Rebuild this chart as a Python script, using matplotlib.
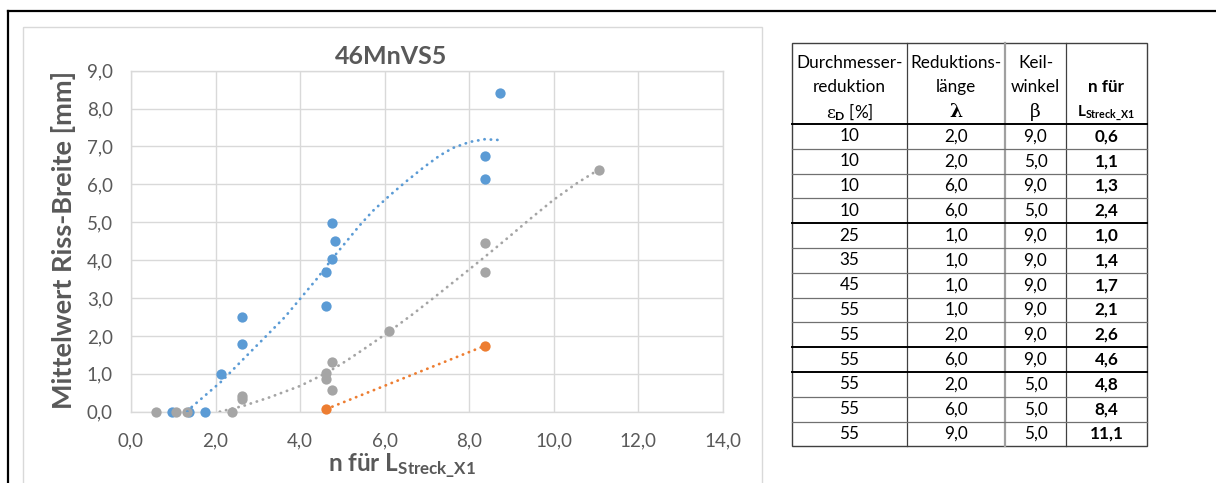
import numpy as np
import matplotlib
matplotlib.use("Agg")
import matplotlib.pyplot as plt
from matplotlib.lines import Line2D
from matplotlib.patches import Rectangle

plt.rcParams['font.family'] = ['Lato', 'DejaVu Sans']
plt.rcParams['mathtext.fontset'] = 'custom'
plt.rcParams['mathtext.rm'] = 'Lato'
plt.rcParams['mathtext.bf'] = 'Lato:bold'
plt.rcParams['mathtext.it'] = 'DejaVu Serif'

# -------------------------------------------------
# Daten
# -------------------------------------------------

blue_x = [0.97, 1.37, 1.76, 2.13, 2.62, 2.62, 4.62, 4.62, 4.76, 4.76, 4.83, 8.37, 8.37, 8.72]
blue_y = [0.0, 0.0, 0.0, 0.99, 1.79, 2.51, 2.80, 3.70, 4.04, 4.99, 4.50, 6.14, 6.75, 8.42]

gray_x = [0.58, 1.06, 1.33, 2.39, 2.62, 2.62, 4.62, 4.62, 4.76, 4.76, 6.10, 8.37, 8.37, 11.06]
gray_y = [0.0, 0.0, 0.0, 0.0, 0.42, 0.33, 1.01, 0.86, 1.32, 0.57, 2.14, 4.45, 3.69, 6.39]

orange_x = [4.62, 8.37]
orange_y = [0.07, 1.74]

blue_trend_x = [1.33, 1.39, 2.14, 2.65, 3.20, 3.64, 4.00, 4.39, 4.76, 5.10, 5.41,
                5.72, 6.12, 6.51, 6.91, 7.30, 7.61, 8.01, 8.36, 8.72]
blue_trend_y = [0.0, 0.08, 0.80, 1.38, 2.00, 2.50, 2.98, 3.50, 4.04, 4.50, 4.92,
                5.30, 5.71, 6.08, 6.44, 6.76, 6.96, 7.12, 7.19, 7.17]

gray_trend_x = [2.10, 2.65, 3.28, 4.00, 4.62, 5.09, 5.57, 6.10, 6.67, 7.22, 7.77,
                8.36, 8.87, 9.43, 9.98, 10.53, 11.06]
gray_trend_y = [0.0, 0.15, 0.38, 0.68, 1.02, 1.34, 1.70, 2.11, 2.58, 3.06, 3.55,
                4.08, 4.55, 5.08, 5.58, 6.02, 6.39]

# Tabelle
eps_d = [10, 10, 10, 10, 25, 35, 45, 55, 55, 55, 55, 55, 55]
lam = [2.0, 2.0, 6.0, 6.0, 1.0, 1.0, 1.0, 1.0, 2.0, 6.0, 2.0, 6.0, 9.0]
beta = [9.0, 5.0, 9.0, 5.0, 9.0, 9.0, 9.0, 9.0, 9.0, 9.0, 5.0, 5.0, 5.0]
n_val = [0.6, 1.1, 1.3, 2.4, 1.0, 1.4, 1.7, 2.1, 2.6, 4.6, 4.8, 8.4, 11.1]

BLUE = "#5B9BD5"
ORANGE = "#ED7D31"
GRAY = "#A5A5A5"
TXT = "#595959"
GRID = "#D9D9D9"

W, H = 1216, 483


def fig_rect(x0, y0, x1, y1):
    # Pixel -> figure coords
    return [x0 / W, 1 - y1 / H, (x1 - x0) / W, (y1 - y0) / H]


def de(v):
    return f"{v:.1f}".replace(".", ",")


fig = plt.figure(figsize=(W / 100, H / 100), dpi=100)

# overlay in Pixelkoordinaten fuer Rahmen und Tabelle
ov = fig.add_axes([0, 0, 1, 1])
ov.set_xlim(0, W)
ov.set_ylim(H, 0)
ov.axis("off")
ov.patch.set_visible(False)

# schwarzer Rahmen (oben, links)
ov.add_line(Line2D([8, W], [11, 11], color="black", lw=1.6))
ov.add_line(Line2D([8, 8], [11, H], color="black", lw=1.6))
# Diagrammbereich
ov.add_patch(Rectangle((23, 27), 739, 480, fill=False, ec=GRID, lw=1.0))

# -------------------------------------------------
# Diagramm
# -------------------------------------------------

ax = fig.add_axes(fig_rect(131, 70.7, 723, 411.7))

ax.scatter(blue_x, blue_y, s=55, color=BLUE, lw=0, zorder=3, clip_on=False)
ax.scatter(gray_x, gray_y, s=55, color=GRAY, lw=0, zorder=3, clip_on=False)
ax.scatter(orange_x, orange_y, s=55, color=ORANGE, lw=0, zorder=3, clip_on=False)

dots = (0, (0.1, 2.2))
tl = dict(lw=2.0, linestyle=dots, dash_capstyle="round", zorder=4)
ax.plot(blue_trend_x, blue_trend_y, color=BLUE, **tl)
ax.plot(gray_trend_x, gray_trend_y, color=GRAY, **tl)
ax.plot(orange_x, orange_y, color=ORANGE, **tl)

ax.set_xlim(0, 14)
ax.set_ylim(0, 9)
ax.set_xticks(np.arange(0, 15, 2))
ax.set_yticks(np.arange(0, 10, 1))
ax.set_xticklabels([de(v) for v in np.arange(0, 15, 2)])
ax.set_yticklabels([de(v) for v in np.arange(0, 10, 1)])
ax.tick_params(length=0, labelsize=13.5, colors=TXT)
ax.tick_params(axis="y", pad=13)
ax.tick_params(axis="x", pad=15)
ax.grid(True, color=GRID, lw=1.0)
ax.set_axisbelow(True)
for s in ax.spines.values():
    s.set_color(GRID)
    s.set_linewidth(1.0)

fig.text(391 / W, 1 - 56 / H, "46MnVS5", ha="center", va="center",
         fontsize=18, fontweight="bold", color=TXT)
fig.text(64 / W, 1 - 240 / H, "Mittelwert Riss-Breite [mm]", ha="center",
         va="center", rotation=90, fontsize=19.5, fontweight="bold", color=TXT)
fig.text(402 / W, 1 - 466 / H, r"n für L$_{\mathbf{Streck\_X1}}$",
         ha="center", va="center", fontsize=17.5, fontweight="bold", color=TXT)

# -------------------------------------------------
# Tabelle
# -------------------------------------------------

cols = [792, 907, 1005, 1066, 1147]
top, head_bot, row_h = 43, 124, 24.8
n_rows = len(n_val)
bot = head_bot + n_rows * row_h
cx = [(cols[i] + cols[i + 1]) / 2 for i in range(4)]
fs = 12.3

# Rahmen
ov.add_patch(Rectangle((cols[0], top), cols[-1] - cols[0], bot - top,
                       fill=False, ec="#404040", lw=1.0))
for i, x in enumerate(cols[1:-1]):
    if i == 1:
        ov.add_line(Line2D([x, x], [top, bot], color="#A0A0A0", lw=1.6))
    else:
        ov.add_line(Line2D([x, x], [top, bot], color="#404040", lw=0.9))

thick = {0, 4, 9, 10}
for r in range(n_rows):
    y = head_bot + r * row_h
    if r in thick:
        ov.add_line(Line2D([cols[0], cols[-1]], [y, y], color="black", lw=1.4))
    else:
        ov.add_line(Line2D([cols[0], cols[-1]], [y, y], color="#707070", lw=0.9))

# Kopf
hy = [63, 87, 112]
kw = dict(ha="center", va="center", fontsize=fs, color="black")
ov.text(cx[0], hy[0], "Durchmesser-", **kw)
ov.text(cx[0], hy[1], "reduktion", **kw)
ov.text(cx[0], hy[2], r"$\varepsilon_{\mathbf{D}}$ [%]", **kw)
ov.text(cx[1], hy[0], "Reduktions-", **kw)
ov.text(cx[1], hy[1], "länge", **kw)
ov.text(cx[1], hy[2], "λ", ha="center", va="center", fontsize=13.5,
        family="DejaVu Serif", fontweight="bold")
ov.text(cx[2], hy[0], "Keil-", **kw)
ov.text(cx[2], hy[1], "winkel", **kw)
ov.text(cx[2], hy[2], "β", ha="center", va="center", fontsize=13.5,
        family="DejaVu Serif")
ov.text(cx[3], hy[1], "n für", fontweight="bold", **kw)
ov.text(cx[3], hy[2] + 1, r"L$_{\mathbf{Streck\_X1}}$", fontweight="bold",
        ha="center", va="center", fontsize=11)

for r in range(n_rows):
    y = head_bot + (r + 0.5) * row_h
    ov.text(cx[0], y, str(eps_d[r]), **kw)
    ov.text(cx[1], y, de(lam[r]), **kw)
    ov.text(cx[2], y, de(beta[r]), **kw)
    ov.text(cx[3], y, de(n_val[r]), fontweight="bold", **kw)

fig.savefig("out.png", dpi=100)
